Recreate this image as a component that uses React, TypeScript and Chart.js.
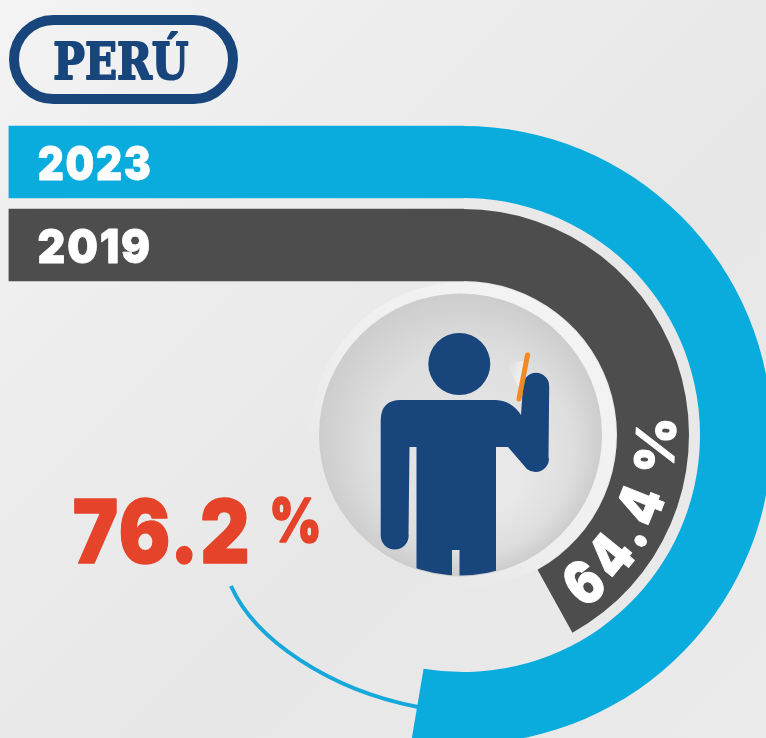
import React, { useEffect, useRef } from "react";
import { Chart, registerables } from "chart.js";

Chart.register(...registerables);

const title = "PERÚ";
const years = ["2023", "2019"];
const shares = [76.2, 64.4];
const ringRest = [68.5, 89.1];
const straightRun = [100, 100];
const colors = ["#0aabdd", "#4d4d4d"];

const NAVY = "#17457c";
const RED = "#e5432a";
const HEAVY = '"Inter", "DejaVu Sans"';
const BOLD_SERIF = '"DejaVu Serif"';

function fitText(
  ctx: CanvasRenderingContext2D,
  text: string,
  font: string,
  x0: number,
  x1: number,
  baseline: number,
  color: string,
  thicken = 0,
  spacing = "0px"
) {
  ctx.save();
  ctx.font = font;
  (ctx as any).letterSpacing = spacing;
  const m = ctx.measureText(text);
  const w = m.actualBoundingBoxLeft + m.actualBoundingBoxRight;
  const s = (x1 - x0) / w;
  ctx.translate(x0 + m.actualBoundingBoxLeft * s, baseline);
  ctx.scale(s, 1);
  ctx.textAlign = "left";
  ctx.textBaseline = "alphabetic";
  ctx.fillStyle = color;
  ctx.fillText(text, 0, 0);
  if (thicken > 0) {
    ctx.strokeStyle = color;
    ctx.lineWidth = thicken;
    ctx.lineJoin = "round";
    ctx.strokeText(text, 0, 0);
  }
  ctx.restore();
}

const barDecor = {
  id: "barDecor",
  afterDatasetsDraw(chart: any) {
    const ctx: CanvasRenderingContext2D = chart.ctx;
    // pill title
    ctx.save();
    ctx.strokeStyle = NAVY;
    ctx.lineWidth = 10;
    ctx.beginPath();
    ctx.roundRect(14, 20, 219, 79, 39.5);
    ctx.stroke();
    ctx.restore();
    fitText(ctx, title, `bold 50px ${BOLD_SERIF}`, 55, 188, 78.5, NAVY, 2);
    // year labels at each category
    const yScale = chart.scales.y;
    years.forEach((y, i) => {
      const cy = yScale.getPixelForValue(i);
      fitText(ctx, y, `900 47px ${HEAVY}`, 38.5, 149.5, cy + 17.5, "#ffffff", 0.8, "2px");
    });
    // headline figure
    fitText(ctx, `${shares[0]}`, `900 88px ${HEAVY}`, 74.5, 247, 562.5, RED, 1.5, "2px");
    fitText(ctx, "%", `900 60px ${HEAVY}`, 272.5, 318.5, 541.5, RED, 1.5);
    // leader line
    ctx.save();
    ctx.strokeStyle = "#17a8db";
    ctx.lineWidth = 4;
    ctx.beginPath();
    ctx.moveTo(231, 586);
    ctx.bezierCurveTo(255, 640, 330, 690, 418, 707);
    ctx.stroke();
    ctx.restore();
  },
};

function drawPerson(ctx: CanvasRenderingContext2D) {
  const dx = 460.5;
  const dy = 435;
  const r = 141.5;
  ctx.save();
  // pale halo ring, fading out toward the lower left
  const halo = ctx.createLinearGradient(570, 330, 370, 540);
  halo.addColorStop(0, "rgba(243,243,243,1)");
  halo.addColorStop(0.6, "rgba(240,240,240,0.8)");
  halo.addColorStop(1, "rgba(236,236,236,0)");
  ctx.fillStyle = halo;
  ctx.beginPath();
  ctx.arc(463, 435, 153, 0, Math.PI * 2);
  ctx.fill();
  // disc
  const g = ctx.createRadialGradient(490, 480, 30, dx, dy, r);
  g.addColorStop(0, "#e8e8e8");
  g.addColorStop(0.65, "#dedede");
  g.addColorStop(1, "#cdcdcd");
  ctx.fillStyle = g;
  ctx.beginPath();
  ctx.arc(dx, dy, r, 0, Math.PI * 2);
  ctx.fill();

  ctx.beginPath();
  ctx.arc(dx, dy, r - 1, 0, Math.PI * 2);
  ctx.clip();

  // glow from phone
  const glow = ctx.createLinearGradient(524, 372, 508, 368);
  glow.addColorStop(0, "rgba(255,255,255,0.6)");
  glow.addColorStop(1, "rgba(255,255,255,0)");
  ctx.fillStyle = glow;
  ctx.beginPath();
  ctx.moveTo(526, 360);
  ctx.lineTo(507, 364);
  ctx.lineTo(520, 390);
  ctx.closePath();
  ctx.fill();

  ctx.fillStyle = NAVY;
  // head
  ctx.beginPath();
  ctx.arc(459.3, 364, 31, 0, Math.PI * 2);
  ctx.fill();
  // body, near arm, raised arm
  ctx.beginPath();
  ctx.moveTo(401, 400);
  ctx.lineTo(496, 400);
  ctx.quadraticCurveTo(512, 401, 521, 415);
  ctx.lineTo(523, 385);
  ctx.arc(536, 386, 13.2, Math.PI, 0);
  ctx.lineTo(548.5, 458);
  ctx.arc(535.5, 458.5, 13.5, 0, Math.PI * 0.72);
  ctx.lineTo(508, 447);
  ctx.lineTo(496, 447);
  ctx.lineTo(496, 585);
  ctx.lineTo(459.5, 585);
  ctx.lineTo(459.5, 550);
  ctx.lineTo(452, 550);
  ctx.lineTo(452, 585);
  ctx.lineTo(416.5, 585);
  ctx.lineTo(416.5, 447);
  ctx.lineTo(409.5, 447);
  ctx.lineTo(408.5, 535);
  ctx.arc(394.7, 535.5, 14, 0, Math.PI);
  ctx.lineTo(380.7, 420);
  ctx.quadraticCurveTo(381, 400, 401, 400);
  ctx.closePath();
  ctx.fill();
  ctx.restore();

  // phone
  ctx.save();
  ctx.strokeStyle = "#f08a24";
  ctx.lineWidth = 5;
  ctx.lineCap = "round";
  ctx.beginPath();
  ctx.moveTo(527.5, 355);
  ctx.lineTo(519, 399);
  ctx.stroke();
  ctx.restore();
}

const gaugeDecor = {
  id: "gaugeDecor",
  beforeDatasetsDraw(chart: any) {
    drawPerson(chart.ctx);
  },
  afterDatasetsDraw(chart: any) {
    const ctx: CanvasRenderingContext2D = chart.ctx;
    const arc = chart.getDatasetMeta(2).data[0];
    const cx = arc.x;
    const cy = arc.y;
    const chars = [...`${shares[1]}`, "%"];
    const angles = [140.8, 129.2, 120.8, 111.6, 93];
    ctx.save();
    ctx.fillStyle = "#ffffff";
    ctx.strokeStyle = "#ffffff";
    ctx.lineWidth = 1;
    ctx.lineJoin = "round";
    ctx.textAlign = "center";
    ctx.textBaseline = "alphabetic";
    chars.forEach((c, i) => {
      const t = (angles[i] * Math.PI) / 180;
      const rad = 212;
      ctx.save();
      ctx.translate(cx + rad * Math.sin(t), cy - rad * Math.cos(t));
      ctx.rotate(t + Math.PI);
      ctx.font = `900 ${c === "%" ? 54 : 60}px ${HEAVY}`;
      ctx.scale(c === "%" ? 1 : 0.82, 1);
      ctx.fillText(c, 0, 0);
      ctx.strokeText(c, 0, 0);
      ctx.restore();
    });
    ctx.restore();
  },
};

export default function App() {
  const barRef = useRef<HTMLCanvasElement>(null);
  const ringRef = useRef<HTMLCanvasElement>(null);

  useEffect(() => {
    document.body.style.margin = "0";
    document.body.style.overflow = "hidden";

    const bars = new Chart(barRef.current!, {
      type: "bar",
      data: {
        labels: years,
        datasets: [
          {
            data: straightRun,
            backgroundColor: colors,
            barThickness: 72,
            borderWidth: 0,
          },
        ],
      },
      options: {
        indexAxis: "y",
        responsive: false,
        animation: false,
        events: [],
        layout: { padding: { left: 8.5, right: 302, top: 120.5, bottom: 451.5 } },
        scales: {
          x: { display: false, min: 0, max: 100 },
          y: { display: false },
        },
        plugins: { legend: { display: false }, tooltip: { enabled: false } },
      },
      plugins: [barDecor],
    } as any);

    const ring = new Chart(ringRef.current!, {
      type: "doughnut",
      data: {
        labels: ["value", "rest"],
        datasets: [
          {
            data: [shares[0], ringRest[0]],
            backgroundColor: [colors[0], "rgba(0,0,0,0)"],
            weight: 72,
            borderWidth: 0,
          },
          {
            data: [1],
            backgroundColor: ["rgba(0,0,0,0)"],
            weight: 11,
            borderWidth: 0,
          },
          {
            data: [shares[1], ringRest[1]],
            backgroundColor: [colors[1], "rgba(0,0,0,0)"],
            weight: 72,
            borderWidth: 0,
          },
        ],
      },
      options: {
        responsive: false,
        animation: false,
        events: [],
        cutout: 154,
        layout: { padding: { left: 154, right: 8, top: 126, bottom: 6 } },
        plugins: { legend: { display: false }, tooltip: { enabled: false } },
      },
      plugins: [gaugeDecor],
    } as any);

    return () => {
      bars.destroy();
      ring.destroy();
    };
  }, []);

  return (
    <div
      style={{
        position: "relative",
        width: 766,
        height: 738,
        overflow: "hidden",
        background: "linear-gradient(135deg, #f3f3f3 0%, #ededed 30%, #e7e7e7 60%, #ebebeb 100%)",
      }}
    >
      <canvas ref={barRef} width={766} height={738} style={{ position: "absolute", left: 0, top: 0 }} />
      <canvas ref={ringRef} width={780} height={750} style={{ position: "absolute", left: 0, top: 0 }} />
    </div>
  );
}
